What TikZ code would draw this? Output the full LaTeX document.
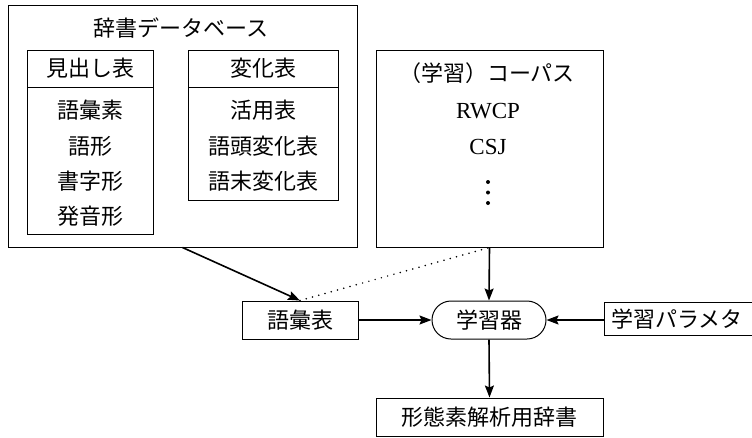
\documentclass[tikz,border=0pt]{standalone}
\usepackage{fontspec}
\setmainfont{Liberation Serif}
\newfontfamily\jp{Noto Sans CJK JP}
\usetikzlibrary{arrows.meta,shapes.misc}
\tikzset{
  box/.style={draw, line width=1pt, inner sep=0pt},
  txt/.style={font=\jp\fontsize{22}{26}\selectfont, inner sep=0pt, anchor=center},
  lat/.style={font=\fontsize{23}{26}\selectfont, inner sep=0pt, anchor=center},
  arr/.style={line width=1.6pt, -{Stealth[length=12pt,width=9pt,inset=2pt]}},
  dotline/.style={line width=1.7pt, line cap=round, dash pattern=on 0pt off 6.5pt}
}
\begin{document}
\begin{tikzpicture}[x=1pt,y=-1pt]
\useasboundingbox (0,0) rectangle (752,437);
% database
\node[box, minimum width=349pt, minimum height=242pt] (db) at (182.5,126) {};
\node[txt] (dbt) at (181,28) {辞書データベース};
\node[box, minimum width=126pt, minimum height=184pt] (mh) at (90,142) {};
\draw[line width=1pt] (27,87) -- (153,87);
\node[txt] (mht) at (90,68) {見出し表};
\node[txt] (m1) at (90,110) {語彙素};
\node[txt] (m2) at (90,146) {語形};
\node[txt] (m3) at (90,181) {書字形};
\node[txt] (m4) at (90,216) {発音形};
\node[box, minimum width=150pt, minimum height=150pt] (hk) at (263,125) {};
\draw[line width=1pt] (188,87) -- (338,87);
\node[txt] (hkt) at (263,68) {変化表};
\node[txt] (h1) at (263,110) {活用表};
\node[txt] (h2) at (263,146) {語頭変化表};
\node[txt] (h3) at (263,181) {語末変化表};
% corpus
\node[box, minimum width=227pt, minimum height=197pt] (cp) at (489.5,148.5) {};
\node[txt] (cpt) at (487,73) {（学習）コーパス};
\node[lat] (c1) at (488,111) {RWCP};
\node[lat] (c2) at (488,147) {CSJ};
\fill (488,182) circle (2pt) (488,192.5) circle (2pt) (488,203) circle (2pt);
% lower row
\node[box, minimum width=116pt, minimum height=38pt, txt] (goi) at (300,320) {語彙表};
\node[draw, line width=1pt, rounded rectangle, minimum width=114pt, minimum height=38pt, txt] (lrn) at (489,320) {学習器};
\node[box, minimum width=148pt, minimum height=33pt] (prm) at (678,318.5) {};
\node[txt] (prmt) at (677,319) {学習パラメタ};
\node[box, minimum width=227pt, minimum height=38pt, txt] (fin) at (489.5,417) {形態素解析用辞書};
% connectors
\draw[arr] (db.south) -- (goi.north);
\draw[dotline] (goi.north) -- (cp.south);
\draw[arr] (cp.south) -- (lrn.north);
\draw[arr] (goi.east) -- (lrn.west);
\draw[arr] (prm.west |- lrn.east) -- (lrn.east);
\draw[arr] (lrn.south) -- (fin.north);
\end{tikzpicture}
\end{document}
